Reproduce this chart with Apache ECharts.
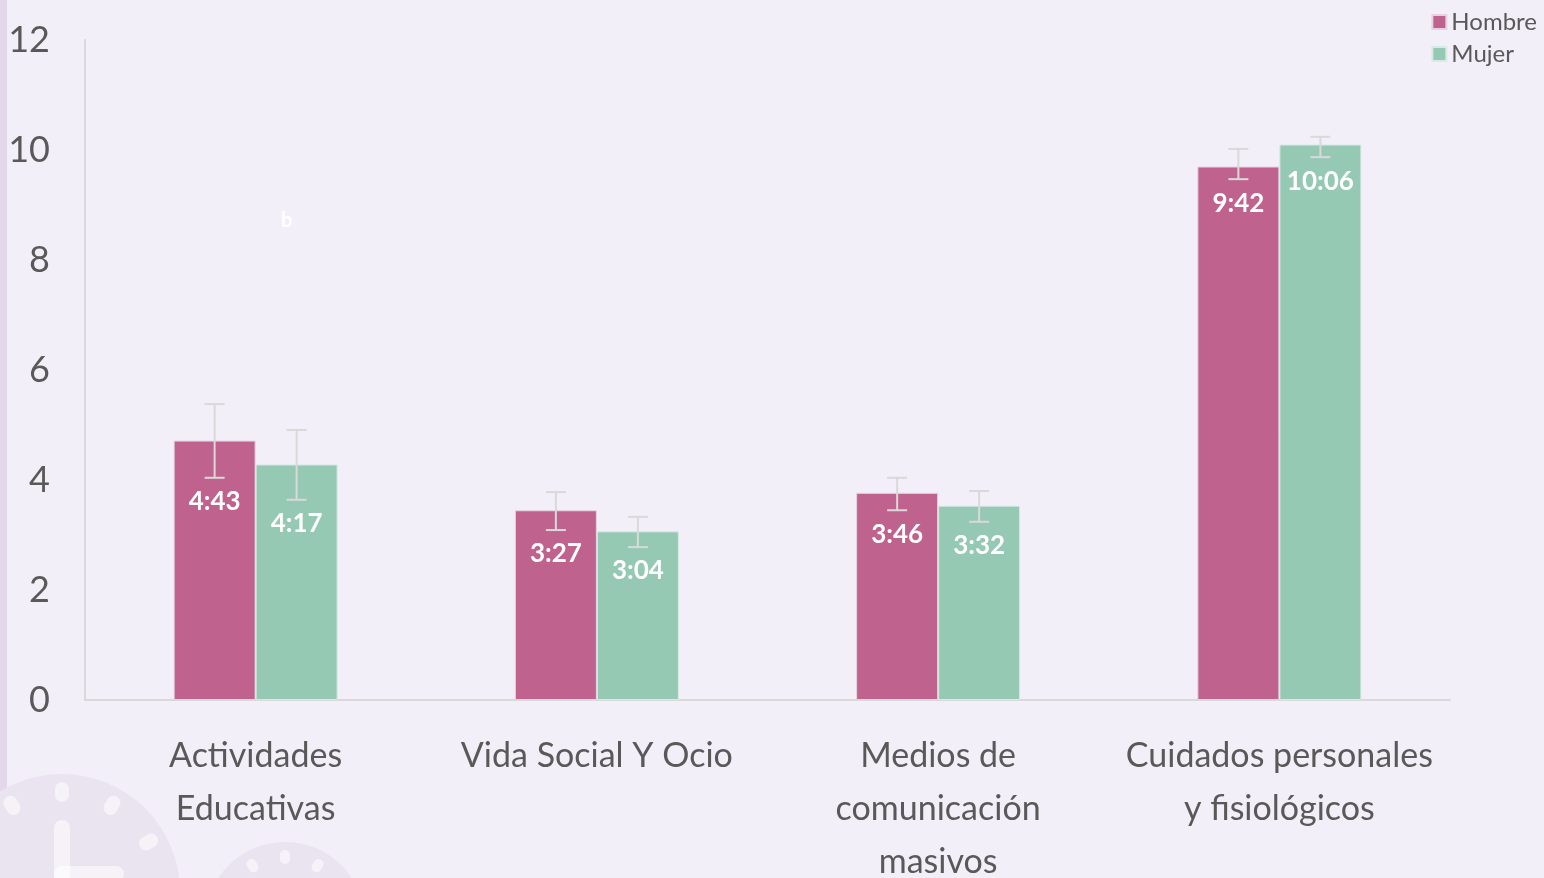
<!DOCTYPE html>
<html style="height: 100%; width: 100%;">
<head>
    <meta charset="utf-8">
    <title>Uso del tiempo por sexo</title>
</head>
<body style="height: 100%; margin: 0; width: 100%; background: #f2eff8;">
    <div id="chartContainer" style="width: 1544px; height: 878px;"></div>

    <script type="text/javascript" src="https://cdn.jsdelivr.net/npm/echarts@6/dist/echarts.min.js"></script>
    <script type="text/javascript">
        var categories = ['Actividades\nEducativas', 'Vida Social Y Ocio', 'Medios de\ncomunicación\nmasivos', 'Cuidados personales\ny fisiológicos'];
        var hombre = [4.717, 3.45, 3.767, 9.7];
        var mujer = [4.283, 3.067, 3.533, 10.1];
        var hombreLow = [4.04, 3.09, 3.45, 9.47];
        var hombreHigh = [5.38, 3.78, 4.04, 10.02];
        var mujerLow = [3.64, 2.78, 3.24, 9.87];
        var mujerHigh = [4.91, 3.33, 3.80, 10.24];

        var font = 'Lato';
        var barW = 82;

        // horas decimales -> h:mm
        function hhmm(v) {
            var m = Math.round(v * 60);
            var mm = m % 60;
            return Math.floor(m / 60) + ':' + (mm < 10 ? '0' + mm : mm);
        }

        function errorSeries(name, values, low, high, shift) {
            return {
                type: 'custom',
                name: name + ' err',
                silent: true,
                z: 5,
                data: values.map(function (v, i) { return [i, low[i], high[i], v]; }),
                renderItem: function (params, api) {
                    var lo = api.coord([api.value(0), api.value(1)]);
                    var hi = api.coord([api.value(0), api.value(2)]);
                    var x = lo[0] + shift;
                    var cap = 10;
                    var st = { stroke: '#d9d9d9', lineWidth: 2 };
                    return {
                        type: 'group',
                        children: [
                            { type: 'line', shape: { x1: x, y1: hi[1], x2: x, y2: lo[1] }, style: st },
                            { type: 'line', shape: { x1: x - cap, y1: hi[1], x2: x + cap, y2: hi[1] }, style: st },
                            { type: 'line', shape: { x1: x - cap, y1: lo[1], x2: x + cap, y2: lo[1] }, style: st },
                            {
                                type: 'text', x: x, y: lo[1] + 24,
                                style: {
                                    text: hhmm(api.value(3)), fill: '#ffffff',
                                    font: 'bold 26px ' + font, align: 'center', verticalAlign: 'middle'
                                }
                            }
                        ]
                    };
                }
            };
        }

        // reloj decorativo
        function clockTicks(cx, cy, r, len, w) {
            var out = [];
            for (var k = 0; k < 12; k++) {
                var a = k * Math.PI / 6;
                var rr = r - len / 2 - 8;
                out.push({
                    type: 'rect',
                    x: cx + rr * Math.sin(a), y: cy - rr * Math.cos(a),
                    originX: 0, originY: 0,
                    rotation: -a,
                    shape: { x: -w / 2, y: -len / 2, width: w, height: len, r: w / 2 },
                    style: { fill: 'rgba(255,255,255,0.55)' },
                    silent: true
                });
            }
            return out;
        }

        var graphics = [
            { type: 'rect', left: 0, top: 0, shape: { width: 7, height: 878 }, style: { fill: '#e2d7eb' }, silent: true, z: -10 },
            { type: 'circle', shape: { cx: 62, cy: 892, r: 118 }, style: { fill: '#e9e4f0' }, silent: true, z: -10 },
            { type: 'circle', shape: { cx: 285, cy: 922, r: 80 }, style: { fill: '#e9e4f0' }, silent: true, z: -10 },
            { type: 'rect', shape: { x: 54, y: 820, width: 16, height: 70, r: 8 }, style: { fill: 'rgba(255,255,255,0.55)' }, silent: true, z: -9 },
            { type: 'rect', shape: { x: 54, y: 866, width: 70, height: 16, r: 8 }, style: { fill: 'rgba(255,255,255,0.55)' }, silent: true, z: -9 },
            {
                type: 'text', left: 281, top: 211, z: 10,
                style: { text: 'b', fill: '#ffffff', font: 'bold 20px ' + font }
            }
        ].concat(clockTicks(62, 892, 118, 20, 14).map(function (g) { g.z = -9; return g; }))
         .concat(clockTicks(285, 922, 80, 14, 10).map(function (g) { g.z = -9; return g; }));

        var dom = document.getElementById('chartContainer');
        var myChart = echarts.init(dom);
        var option = {
            backgroundColor: '#f2eff8',
            animation: false,
            textStyle: { fontFamily: font },
            graphic: graphics,
            legend: {
                data: ['Hombre', 'Mujer'],
                orient: 'vertical',
                right: 2,
                top: 5,
                itemWidth: 14,
                itemHeight: 14,
                itemGap: 8,
                icon: 'rect',
                textStyle: { fontSize: 24, color: '#595959', fontFamily: font }
            },
            grid: { left: 85, right: 94, top: 40, bottom: 178, containLabel: false, outerBoundsMode: 'none' },
            xAxis: {
                type: 'category',
                data: categories,
                axisLine: { lineStyle: { color: '#d9d9d9', width: 2 } },
                axisTick: { show: false },
                axisLabel: {
                    fontSize: 34, color: '#595959', margin: 30, lineHeight: 53,
                    interval: 0, fontFamily: font
                }
            },
            yAxis: {
                type: 'value',
                min: 0,
                max: 12,
                interval: 2,
                axisLine: { show: true, lineStyle: { color: '#d9d9d9', width: 2 } },
                axisTick: { show: false },
                splitLine: { show: false },
                axisLabel: { fontSize: 36, color: '#595959', margin: 35, fontFamily: font }
            },
            series: [
                {
                    name: 'Hombre',
                    type: 'bar',
                    data: hombre,
                    barWidth: barW,
                    barGap: '0%',
                    itemStyle: { color: '#bf638e', borderColor: '#e6d3e2', borderWidth: 1 }
                },
                {
                    name: 'Mujer',
                    type: 'bar',
                    data: mujer,
                    barWidth: barW,
                    itemStyle: { color: '#95c9b4', borderColor: '#d6ebe3', borderWidth: 1 }
                },
                errorSeries('Hombre', hombre, hombreLow, hombreHigh, -barW / 2),
                errorSeries('Mujer', mujer, mujerLow, mujerHigh, barW / 2)
            ]
        };
        myChart.setOption(option);
    </script>
</body>
</html>
